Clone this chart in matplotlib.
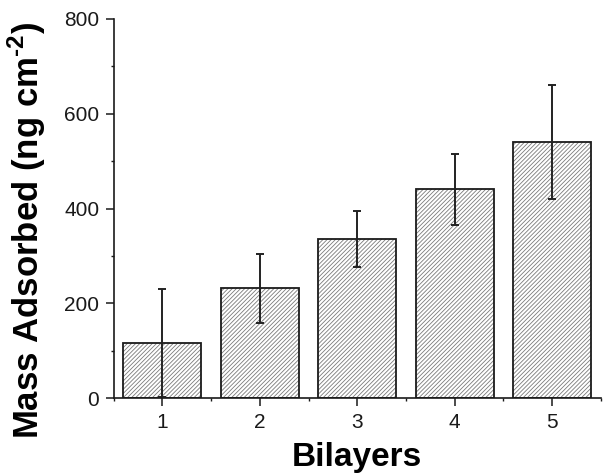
import matplotlib
matplotlib.use("Agg")
import matplotlib.pyplot as plt
from matplotlib.ticker import MultipleLocator

bilayers = [1, 2, 3, 4, 5]
mass = [116, 232, 335, 441, 540]
err = [114, 73, 59, 75, 120]
xtick_labels = ["1", "2", "3", "4", "5"]

plt.rcParams['font.family'] = ['Liberation Sans', 'DejaVu Sans']
plt.rcParams['hatch.linewidth'] = 0.6
plt.rcParams['mathtext.fontset'] = 'custom'
plt.rcParams['mathtext.rm'] = 'Liberation Sans:bold'
plt.rcParams['mathtext.bf'] = 'Liberation Sans:bold'

fig = plt.figure(figsize=(6.05, 4.75), dpi=100)
ax = fig.add_axes([0.188, 0.162, 0.805, 0.798])

# hatch layer
ax.bar(bilayers, mass, width=0.8, color='white', edgecolor='#7a7a7a',
       hatch='////////', linewidth=0, zorder=2)
# outline layer
ax.bar(bilayers, mass, width=0.8, fill=False, edgecolor='#1a1a1a',
       linewidth=1.3, zorder=3)
ax.errorbar(bilayers, mass, yerr=err, fmt='none', ecolor='#222222',
            elinewidth=1.4, capsize=3.2, capthick=1.4, zorder=4)

ax.set_xlim(0.5, 5.5)
ax.set_ylim(0, 800)
ax.set_xticks(bilayers)
ax.set_xticklabels(xtick_labels)
ax.set_yticks([0, 200, 400, 600, 800])
ax.xaxis.set_minor_locator(MultipleLocator(0.5))
ax.yaxis.set_minor_locator(MultipleLocator(100))

ax.spines['top'].set_visible(False)
ax.spines['right'].set_visible(False)
for s in ('left', 'bottom'):
    ax.spines[s].set_linewidth(1.2)
    ax.spines[s].set_color('#1a1a1a')

ax.tick_params(which='major', direction='out', length=5.5, width=1.1,
               labelsize=15, colors='#1a1a1a', pad=5)
ax.tick_params(which='minor', direction='out', length=2.5, width=1.0,
               colors='#1a1a1a')

ax.set_xlabel('Bilayers', fontsize=24, fontweight='bold')
ax.xaxis.label.set_verticalalignment('top')
ax.xaxis.set_label_coords(0.5, -0.116)
ax.set_ylabel(r'Mass Adsorbed (ng cm$^{\text{-2}}$)', fontsize=25,
              fontweight='bold')
ax.yaxis.set_label_coords(-0.134, 0.443)

fig.savefig('out.png', dpi=100, facecolor='white')
